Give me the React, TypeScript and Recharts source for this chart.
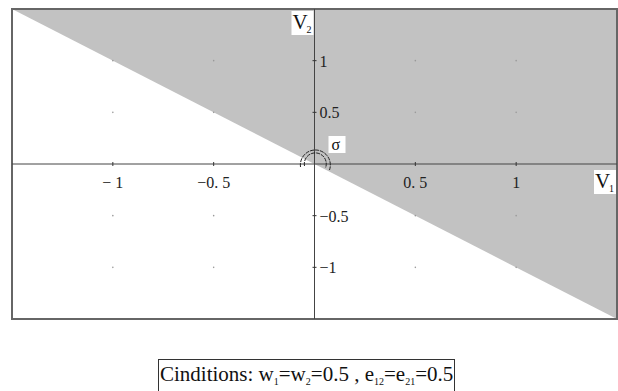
import React from 'react';
import { ComposedChart, Area, XAxis, YAxis, ReferenceLine, ReferenceDot, ReferenceArea } from 'recharts';

// half-plane V1 + V2 > 0 (shaded), bounded by the line V2 = -V1
const regionX = [-1.5, 1.5];
const regionLow = [1.5, -1.5];
const regionHigh = [1.5, 1.5];

const xTicks = [-1, -0.5, 0.5, 1];
const xTickLabels = ['\u2212 1', '\u22120. 5', '0. 5', '1'];
const yTicks = [1, 0.5, -0.5, -1];
const yTickLabels = ['1', '0.5', '\u22120.5', '\u22121'];

// faint grid points
const dotX = [-1, -0.5, 0.5, 1];
const dotY = [1, 0.5, -0.5, -1];

const regionData = regionX.map((x, i) => ({ x, band: [regionLow[i], regionHigh[i]] }));

const serif = '"Liberation Serif", "DejaVu Serif", serif';

const XTick: React.FC<any> = ({ cx, cy, label }) => (
    <g>
        <line x1={cx} y1={cy - 2} x2={cx} y2={cy + 2} stroke="#333" />
        <text x={cx} y={cy + 24} textAnchor="middle" fontFamily={serif} fontSize={16} fill="#222">
            {label}
        </text>
    </g>
);

const YTick: React.FC<any> = ({ cx, cy, label }) => (
    <g>
        <line x1={cx - 2} y1={cy} x2={cx + 2} y2={cy} stroke="#333" />
        <text x={cx + 5} y={cy + 6} textAnchor="start" fontFamily={serif} fontSize={16} fill="#222">
            {label}
        </text>
    </g>
);

const AxisName: React.FC<any> = ({ cx, cy, dx, dy, sub }) => (
    <g>
        <rect x={cx + dx} y={cy + dy} width={22} height={24} fill="white" />
        <text x={cx + dx + 1} y={cy + dy + 18} fontFamily={serif} fontSize={21} fill="#111">
            V
        </text>
        <text x={cx + dx + 15} y={cy + dy + 22} fontFamily={serif} fontSize={10} fill="#111">
            {sub}
        </text>
    </g>
);

const Sigma: React.FC<any> = ({ cx, cy }) => (
    <g>
        <path
            d={`M ${cx - 14} ${cy + 3} A 15 15 0 1 1 ${cx + 15} ${cy + 6}`}
            fill="none"
            stroke="#222"
            strokeDasharray="4 1"
        />
        <path
            d={`M ${cx - 10} ${cy + 2} A 11 11 0 1 1 ${cx + 11} ${cy + 4}`}
            fill="none"
            stroke="#222"
            strokeDasharray="4 1"
        />
        <rect x={cx + 14} y={cy - 28} width={17} height={17} fill="white" />
        <text x={cx + 17} y={cy - 14} fontFamily={serif} fontSize={16} fill="#111">
            σ
        </text>
    </g>
);

const sub = { fontSize: 10, verticalAlign: '-4px' } as React.CSSProperties;

const App: React.FC = () => {
    return (
        <div style={{ position: 'absolute', left: 0, top: 0, width: 618, height: 391 }}>
            <ComposedChart
                width={618}
                height={391}
                data={regionData}
                margin={{ top: 9, right: 1, bottom: 72, left: 12 }}
            >
                <XAxis dataKey="x" type="number" domain={[-1.5, 1.5]} hide />
                <YAxis type="number" domain={[-1.5, 1.5]} hide />
                <Area
                    type="linear"
                    dataKey="band"
                    stroke="none"
                    fill="#c2c2c2"
                    fillOpacity={1}
                    isAnimationActive={false}
                />
                <ReferenceArea
                    x1={-1.5}
                    x2={1.5}
                    y1={-1.5}
                    y2={1.5}
                    fill="none"
                    stroke="#666"
                    strokeWidth={2}
                    ifOverflow="visible"
                />
                {dotX.map((x) =>
                    dotY.map((y) => (
                        <ReferenceDot key={`d${x}_${y}`} x={x} y={y} r={0.8} fill="#999" stroke="none" />
                    ))
                )}
                <ReferenceLine y={0} stroke="#444" />
                <ReferenceLine x={0} stroke="#444" />
                {xTicks.map((t, i) => (
                    <ReferenceDot
                        key={`x${t}`}
                        x={t}
                        y={0}
                        shape={(p: any) => <XTick {...p} label={xTickLabels[i]} />}
                    />
                ))}
                {yTicks.map((t, i) => (
                    <ReferenceDot
                        key={`y${t}`}
                        x={0}
                        y={t}
                        shape={(p: any) => <YTick {...p} label={yTickLabels[i]} />}
                    />
                ))}
                <ReferenceDot x={0} y={0} ifOverflow="visible" shape={(p: any) => <Sigma {...p} />} />
                <ReferenceDot
                    x={0}
                    y={1.5}
                    ifOverflow="visible"
                    shape={(p: any) => <AxisName {...p} dx={-23} dy={2} sub="2" />}
                />
                <ReferenceDot
                    x={1.5}
                    y={0}
                    ifOverflow="visible"
                    shape={(p: any) => <AxisName {...p} dx={-23} dy={6} sub="1" />}
                />
            </ComposedChart>
            <div
                style={{
                    position: 'absolute',
                    left: 158,
                    top: 359,
                    border: '1px solid #333',
                    padding: '0 1px',
                    fontFamily: serif,
                    fontSize: 21,
                    lineHeight: '29px',
                    color: '#111',
                    whiteSpace: 'nowrap',
                }}
            >
                Cinditions: w<span style={sub}>1</span>=w<span style={sub}>2</span>=0.5 , e
                <span style={sub}>12</span>=e<span style={sub}>21</span>=0.5
            </div>
        </div>
    );
};

export default App;
